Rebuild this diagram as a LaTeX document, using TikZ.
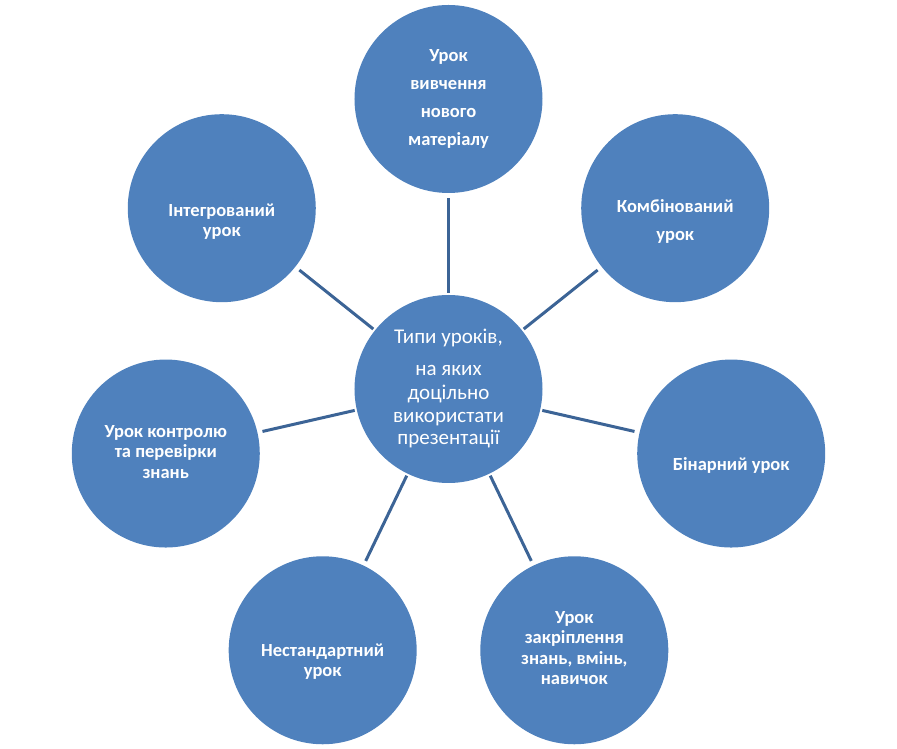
\documentclass[tikz,border=0pt]{standalone}
\usepackage{fontspec}
\setmainfont{Carlito}

\definecolor{discblue}{HTML}{4F81BD}
\definecolor{spokeblue}{HTML}{3C6496}

\tikzset{
  disc/.style={circle, fill=discblue, minimum size=188pt, inner sep=0pt},
  disclabel/.style={text=white, align=center},
  spoke/.style={draw=spokeblue, line width=3pt, shorten <=2pt, shorten >=5pt},
}

\begin{document}
\begin{tikzpicture}[x=1pt, y=1pt]
  \useasboundingbox (-448.5,-360) rectangle (448.5,389);

  % Hub: lesson types
  \node[disc] (hub) at (0,0) {};
  \node[disclabel, font=\fontsize{21}{23}\selectfont] (hubtext) at (hub.center)
    {Типи уроків,\\[9pt]на яких\\доцільно\\використати\\презентації};

  % Outer discs on a heptagon
  \foreach \i/\name in {0/nov, 1/integr, 2/kontr, 3/nestand, 4/zakr, 5/binar, 6/kombin} {
    \node[disc] (\name) at ({90+\i*360/7}:290) {};
    \draw[spoke] (hub) -- (\name);
  }

  % Disc texts
  \foreach \name/\dy/\ls/\txt in {
      nov/0/27.7/{Урок\\вивчення\\нового\\матеріалу},
      integr/-13.5/20/{Інтегрований\\урок},
      kontr/1.5/20.5/{Урок контролю\\та перевірки\\знань},
      nestand/-11.5/20/{Нестандартний\\урок},
      zakr/2/20.5/{Урок\\закріплення\\знань, вмінь,\\навичок},
      binar/-12/20/{Бінарний урок},
      kombin/-13.5/28/{Комбінований\\урок}} {
    \node[disclabel, font=\bfseries\fontsize{18.5}{\ls}\selectfont] (\name text)
      at ([yshift=\dy pt]\name.center) {\txt};
  }
\end{tikzpicture}
\end{document}
